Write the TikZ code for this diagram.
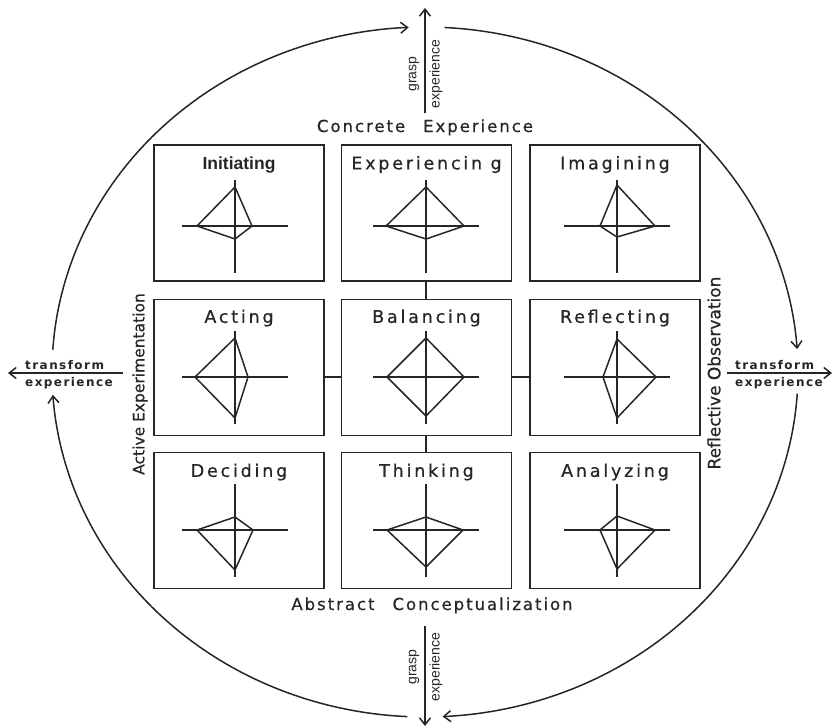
\documentclass[tikz,border=0pt]{standalone}
\usepackage{fontspec}
\setmainfont{DejaVu Sans}
\newfontfamily\titlefont[LetterSpace=16,FakeBold=0.6]{DejaVu Sans}
\newfontfamily\headfont[LetterSpace=12,FakeBold=0.6]{DejaVu Sans}
\newfontfamily\sidefont[FakeBold=0.6]{DejaVu Sans}
\newfontfamily\arialfont{Liberation Sans}
\newfontfamily\flowfont[LetterSpace=12]{DejaVu Sans}
\usetikzlibrary{arrows.meta}
\newcommand\radarplot[6]{%
  \draw[axisline] ({#1-53},#2) -- ({#1+53},#2);
  \draw[axisline] (#1,{#2-46}) -- (#1,{#2+47});
  \draw[radarline] (#1,{#2-#3}) -- ({#1+#4},#2) -- (#1,{#2+#5}) -- ({#1-#6},#2) -- cycle;}
\begin{document}
\begin{tikzpicture}[x=1pt,y=-1pt,
  box/.style={draw=black!85, line width=1.3pt, minimum width=170pt, minimum height=136pt, inner sep=0pt},
  boxtitle/.style={font=\titlefont\fontsize{17.5}{20}\selectfont, text=black!85, inner sep=0pt, anchor=base},
  axisline/.style={draw=black!85, line width=1.2pt},
  radarline/.style={draw=black!85, line width=1.5pt, line join=round},
  conn/.style={draw=black!85, line width=1.2pt},
  flow/.style={draw=black!85, line width=1.5pt, -{Straight Barb[length=7pt,width=11pt]}},
  head/.style={font=\headfont\fontsize{16.5}{19}\selectfont, text=black!85, inner sep=0pt, anchor=base},
  side/.style={font=\sidefont\fontsize{15.5}{18}\selectfont, text=black!85, inner sep=0pt, rotate=90},
  small/.style={font=\arialfont\fontsize{14}{16}\selectfont, text=black!85, inner sep=0pt, rotate=90},
  flowlbl/.style={font=\flowfont\bfseries\fontsize{12}{14}\selectfont, text=black!85, inner sep=0pt, anchor=base west}]
\useasboundingbox (0,0) rectangle (833,728);

% boxes
\node[box] (ini) at (239,213) {};
\node[box] (exp) at (426.5,213) {};
\node[box] (ima) at (615,213) {};
\node[box] (act) at (239,367.5) {};
\node[box] (bal) at (426.5,367.5) {};
\node[box] (ref) at (615,367.5) {};
\node[box] (dec) at (239,520.5) {};
\node[box] (thi) at (426.5,520.5) {};
\node[box] (ana) at (615,520.5) {};

% titles
\node[boxtitle, font=\arialfont\bfseries\fontsize{17.5}{20}\selectfont] (tini) at ([yshift=-25pt]ini.north) {Initiating};
\node[boxtitle] (texp) at ([yshift=-25pt]exp.north) {Experiencin g};
\node[boxtitle] (tima) at ([yshift=-25pt]ima.north) {Imagining};
\node[boxtitle] (tact) at ([yshift=-24pt]act.north) {Acting};
\node[boxtitle] (tbal) at ([yshift=-24pt]bal.north) {Balancing};
\node[boxtitle] (tref) at ([yshift=-24pt]ref.north) {Reflecting};
\node[boxtitle] (tdec) at ([yshift=-25pt]dec.north) {Deciding};
\node[boxtitle] (tthi) at ([yshift=-25pt]thi.north) {Thinking};
\node[boxtitle] (tana) at ([yshift=-25pt]ana.north) {Analyzing};

% radar charts: cx, cy, top, right, bottom, left
\radarplot{235}{226}{39}{17}{13}{38}
\radarplot{426}{226}{39}{38}{13}{40}
\radarplot{617}{226}{41}{38}{11}{17}
\radarplot{235}{377}{39}{13}{41}{40}
\radarplot{426}{377}{39}{38}{39}{39}
\radarplot{617}{377}{38}{39}{41}{14}
\radarplot{235}{530}{13}{18}{40}{38}
\radarplot{426}{530}{13}{37}{37}{39}
\radarplot{617}{530}{14}{38}{39}{17}

% connectors around Balancing
\coordinate (balc) at (426,377);
\draw[conn] (exp.south -| balc) -- (bal.north -| balc);
\draw[conn] (bal.south -| balc) -- (thi.north -| balc);
\draw[conn] (act.east |- balc) -- (bal.west |- balc);
\draw[conn] (bal.east |- balc) -- (ref.west |- balc);

% dimension labels
\node[head] (ce) at (425,132) {Concrete\hspace{18pt}Experience};
\node[head] (ac) at (432,610) {Abstract\hspace{18pt}Conceptualization};
\node[side] (ae) at (140,384) {Active Experimentation};
\node[side, font=\sidefont\fontsize{17}{20}\selectfont] (ro) at (714,373) {Reflective Observation};

% grasp arrows
\coordinate (gtS) at (425,113); \coordinate (gtE) at (425,8);
\draw[flow] (gtS) -- (gtE);
\node[small] (gt1) at (414,74) {grasp};
\node[small] (gt2) at (436,74) {experience};
\coordinate (gbS) at (425,626); \coordinate (gbE) at (425,726);
\draw[flow] (gbS) -- (gbE);
\node[small] (gb1) at (414,667) {grasp};
\node[small] (gb2) at (436,667) {experience};

% transform arrows
\coordinate (tlS) at (123,373); \coordinate (tlE) at (8,373);
\draw[flow] (tlS) -- (tlE);
\node[flowlbl] (tl1) at (25,369) {transform};
\node[flowlbl] (tl2) at (25,386) {experience};
\coordinate (trS) at (727,373); \coordinate (trE) at (832,373);
\draw[flow] (trS) -- (trE);
\node[flowlbl] (tr1) at (735,369) {transform};
\node[flowlbl] (tr2) at (735,386) {experience};

% cycle arcs
\draw[flow] plot[domain=176.3:92.5, samples=80] ({425+373*cos(\x)},{372-345*sin(\x)});
\draw[flow] plot[domain=87:3.8, samples=80] ({425+373*cos(\x)},{372-345*sin(\x)});
\draw[flow] plot[domain=-3.6:-87.3, samples=80] ({425+373*cos(\x)},{372-345*sin(\x)});
\draw[flow] plot[domain=-92.7:-176.2, samples=80] ({425+373*cos(\x)},{372-345*sin(\x)});
\end{tikzpicture}
\end{document}
